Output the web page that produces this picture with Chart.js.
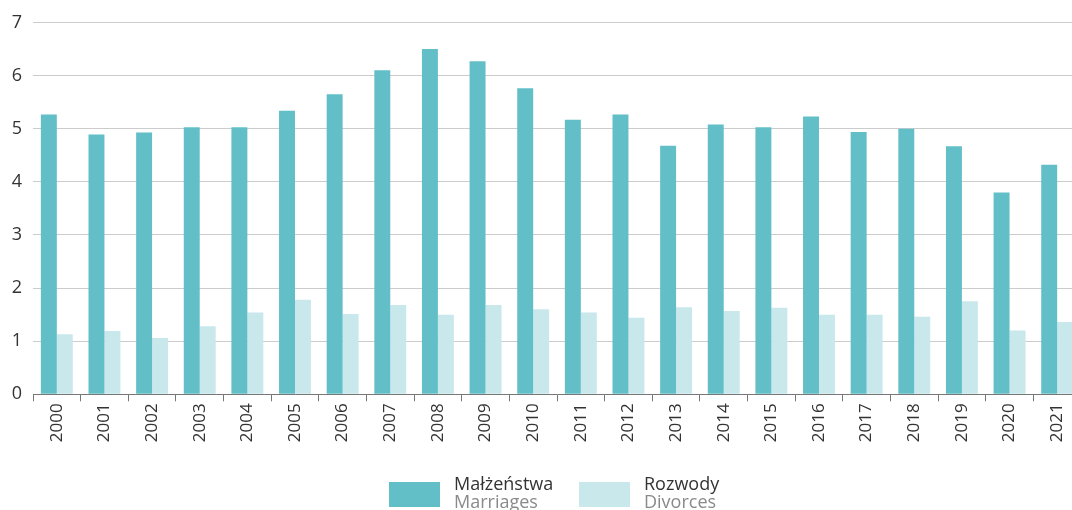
<!DOCTYPE html>
<html>
<head>
<meta charset="utf-8">
<script src="https://cdn.jsdelivr.net/npm/chart.js@4/dist/chart.umd.min.js"></script>
<style>
  html, body { margin: 0; padding: 0; background: #fff; overflow: hidden; }
  #wrap { position: relative; width: 1072px; height: 510px; overflow: hidden; }
  #myChart { position: absolute; left: 0; top: 0; }
  .lg-box { position: absolute; width: 51px; height: 25px; }
  .lg-text { position: absolute; font-family: 'Open Sans', sans-serif; font-size: 18px; line-height: 18px; white-space: nowrap; }
  .lg-text .pl { color: #333; }
  .lg-text .en { color: #8a8a8a; }
</style>
</head>
<body>
<div id="wrap">
  <canvas id="myChart" width="1082" height="510"></canvas>
  <div id="legend"></div>
</div>
<script>
// years on the x axis
const years = ['2000', '2001', '2002', '2003', '2004', '2005', '2006', '2007', '2008', '2009', '2010',
  '2011', '2012', '2013', '2014', '2015', '2016', '2017', '2018', '2019', '2020', '2021']
// per 1000 population
const marriages = [5.27, 4.89, 4.93, 5.03, 5.03, 5.34, 5.65, 6.10, 6.50, 6.27, 5.76,
  5.17, 5.27, 4.68, 5.08, 5.03, 5.23, 4.94, 5.00, 4.67, 3.80, 4.32]
const divorces = [1.13, 1.19, 1.06, 1.28, 1.54, 1.78, 1.51, 1.68, 1.50, 1.68, 1.60,
  1.54, 1.44, 1.64, 1.57, 1.63, 1.50, 1.50, 1.46, 1.75, 1.20, 1.36]
const seriesPl = ['Małżeństwa', 'Rozwody']
const seriesEn = ['Marriages', 'Divorces']
const yTicks = [0, 1, 2, 3, 4, 5, 6, 7]

const colors = ['#62bfc8', '#c8e8ec']
const tickFont = { family: 'Open Sans', size: 17 }

var ctx = document.getElementById('myChart')
var myChart = new Chart(ctx, {
  type: 'bar',
  data: {
    labels: years,
    datasets: [
      { label: seriesPl[0], data: marriages, backgroundColor: colors[0], borderWidth: 0 },
      { label: seriesPl[1], data: divorces, backgroundColor: colors[1], borderWidth: 0 }
    ]
  },
  options: {
    responsive: false,
    animation: false,
    layout: { padding: { top: 22.5, right: 1, left: 0, bottom: 0 } },
    datasets: { bar: { categoryPercentage: 0.67, barPercentage: 1 } },
    plugins: { legend: { display: false }, tooltip: { enabled: false } },
    scales: {
      x: {
        grid: { offset: true, drawOnChartArea: false, drawTicks: true, tickLength: 7, color: '#777' },
        border: { display: true, color: '#777', width: 1 },
        ticks: { minRotation: 90, maxRotation: 90, padding: 2, color: '#333', font: tickFont },
        afterFit: function (scale) { scale.height = 115.7 }
      },
      y: {
        min: 0,
        max: yTicks[yTicks.length - 1],
        afterBuildTicks: function (scale) { scale.ticks = yTicks.map(v => ({ value: v })) },
        grid: { color: '#cccccc', drawTicks: false },
        border: { display: false },
        ticks: { padding: 11, color: '#333', font: { family: 'Open Sans', size: 18 } },
        afterFit: function (scale) { scale.width = 33 }
      }
    }
  }
})

// legend below the chart, built from the series names
var legend = document.getElementById('legend')
var boxX = [389, 579]
var textX = [454, 644]
seriesPl.forEach(function (name, i) {
  var box = document.createElement('div')
  box.className = 'lg-box'
  box.style.left = boxX[i] + 'px'
  box.style.top = '482px'
  box.style.background = colors[i]
  legend.appendChild(box)
  var txt = document.createElement('div')
  txt.className = 'lg-text'
  txt.style.left = textX[i] + 'px'
  txt.style.top = '474px'
  txt.innerHTML = '<div class="pl">' + name + '</div><div class="en">' + seriesEn[i] + '</div>'
  legend.appendChild(txt)
})
</script>
</body>
</html>
